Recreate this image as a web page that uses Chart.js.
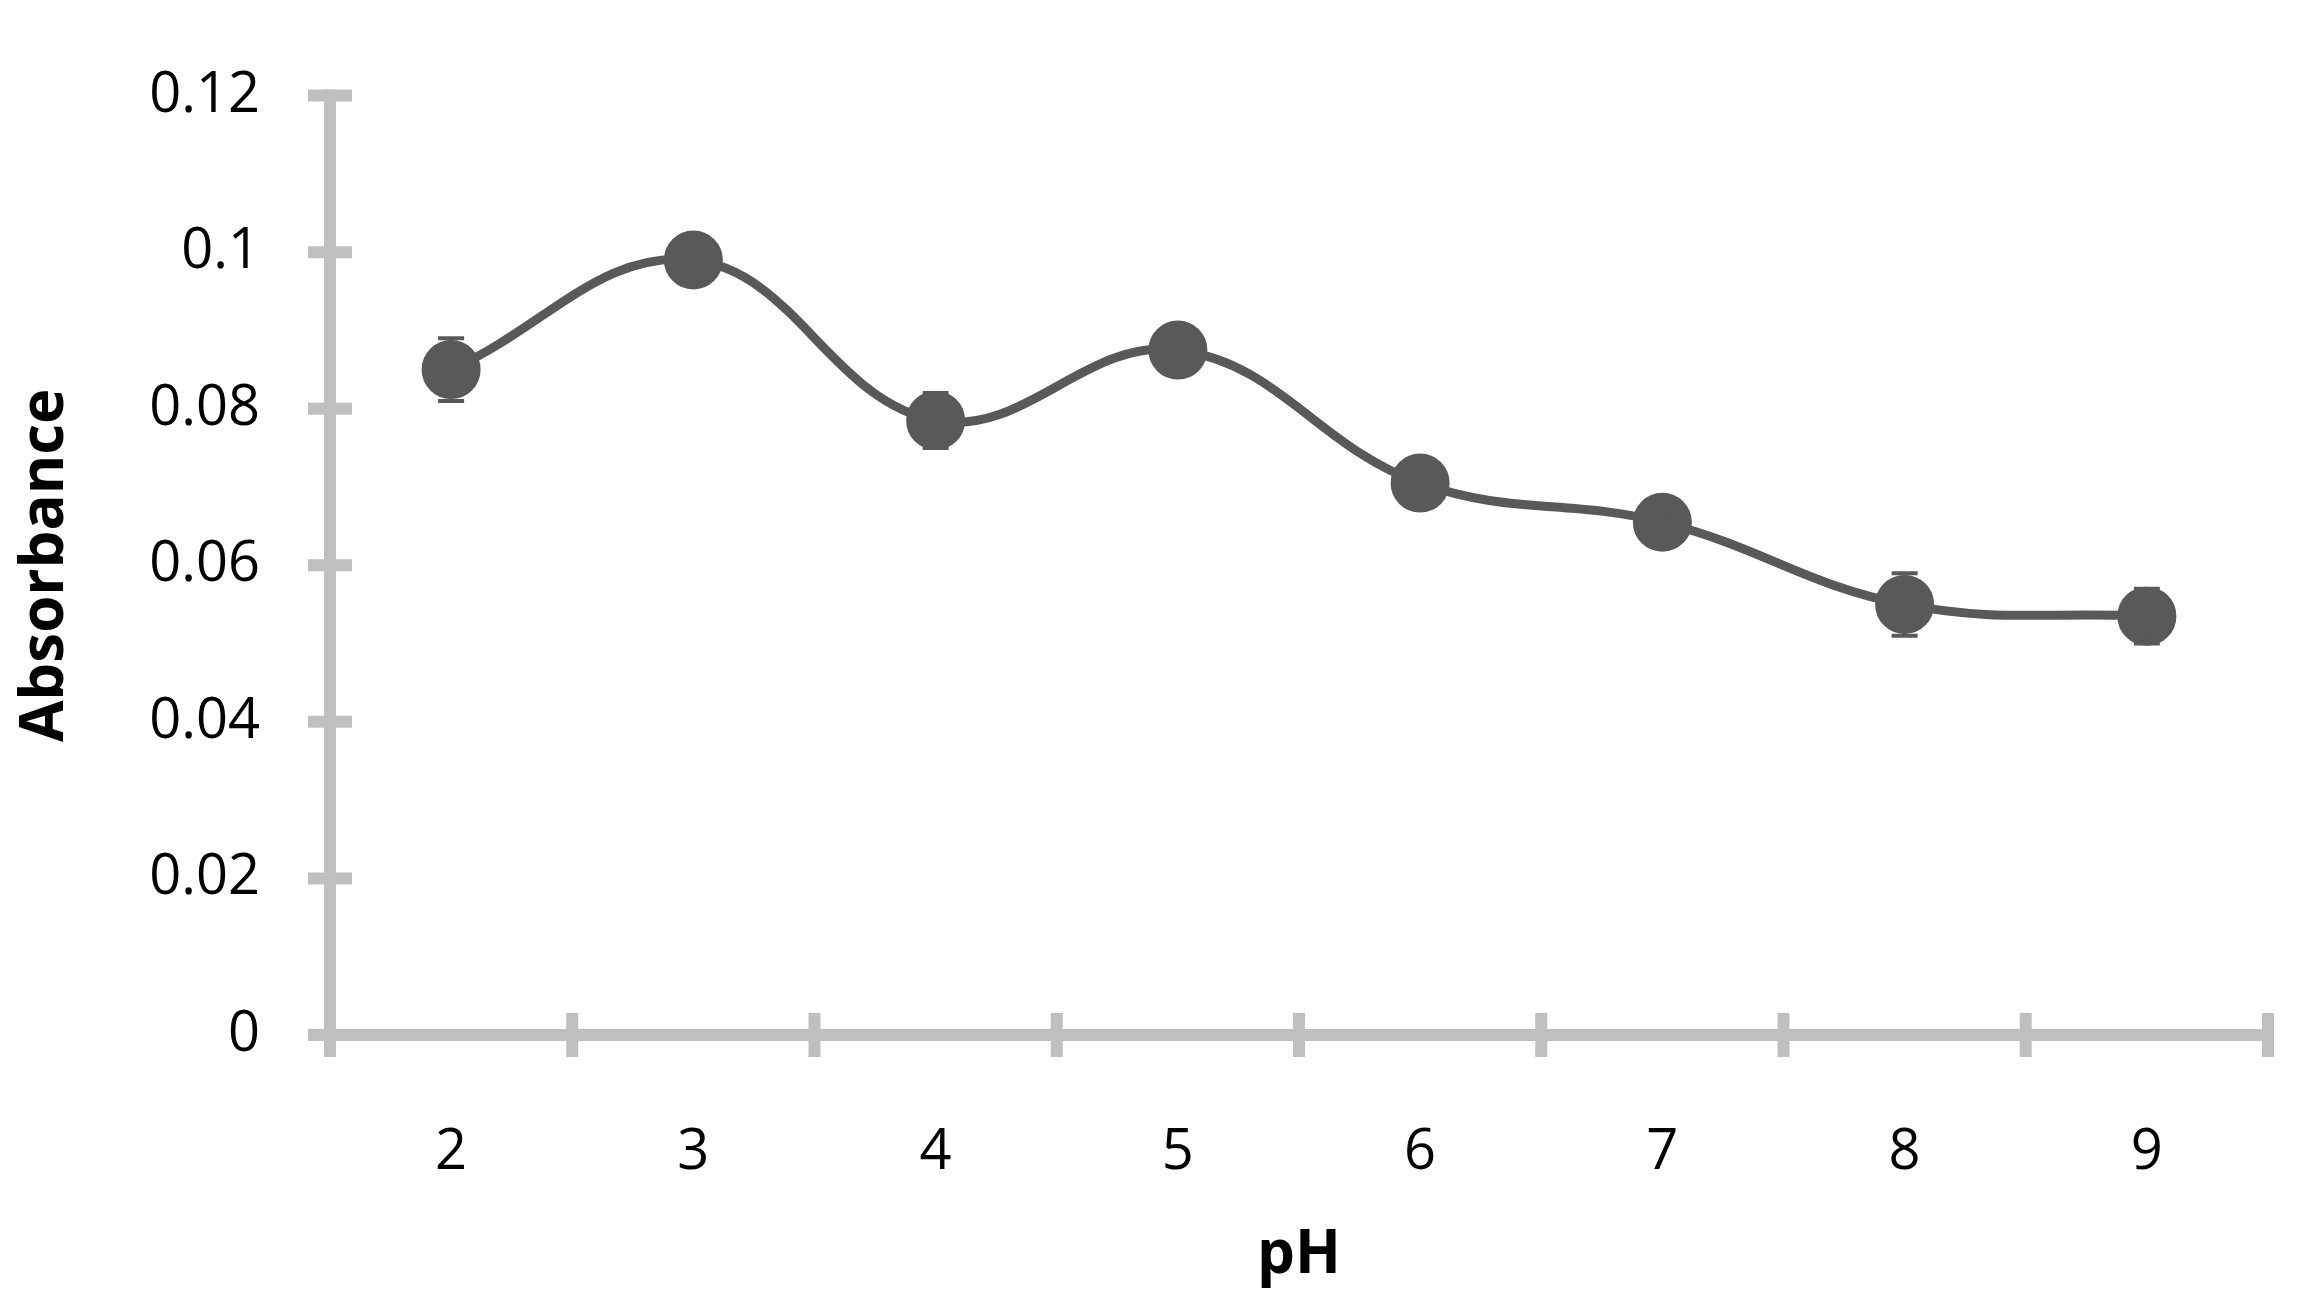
<!DOCTYPE html>
<html><head><meta charset="utf-8">
<script src="https://cdn.jsdelivr.net/npm/chart.js@4"></script>
<style>html,body{margin:0;background:#fff}#w{width:2302px;height:1302px}</style>
</head><body><div id="w"><canvas id="c"></canvas></div>
<script>
const categories=['2','3','4','5','6','7','8','9'];
const absorbance=[0.085,0.099,0.0785,0.0875,0.0705,0.0655,0.055,0.0535];
const errors=[0.004,0.0025,0.0035,0.001,0.001,0.001,0.004,0.0035];
const yTicks=[0,0.02,0.04,0.06,0.08,0.1,0.12];
const gray='#595959', axisC='#bfbfbf';
const plug={id:'p',
 beforeDatasetsDraw(ch){const c=ch.ctx,y=ch.scales.y,a=ch.chartArea;
  c.save();c.strokeStyle=axisC;c.lineWidth=12;c.lineCap='butt';
  c.beginPath();c.moveTo(a.left,a.top-6);c.lineTo(a.left,a.bottom);c.moveTo(a.left-6,a.bottom);c.lineTo(a.right,a.bottom);c.stroke();
  yTicks.forEach(v=>{const p=y.getPixelForValue(v);c.beginPath();c.moveTo(a.left-22,p);c.lineTo(a.left+22,p);c.stroke();});
  const n=categories.length,step=(a.right-a.left)/n;
  for(let i=0;i<=n;i++){const p=a.left+i*step;c.beginPath();c.moveTo(p,a.bottom-22);c.lineTo(p,a.bottom+22);c.stroke();}
  c.restore();},
 afterDatasetsDraw(ch){const c=ch.ctx,x=ch.scales.x,y=ch.scales.y;c.save();c.strokeStyle=gray;c.lineWidth=4;
  absorbance.forEach((v,i)=>{const px=x.getPixelForValue(i),t=y.getPixelForValue(v+errors[i]),b=y.getPixelForValue(v-errors[i]);
   c.beginPath();c.moveTo(px,t);c.lineTo(px,b);c.moveTo(px-13,t);c.lineTo(px+13,t);c.moveTo(px-13,b);c.lineTo(px+13,b);c.stroke();});
  c.restore();}};
new Chart(document.getElementById('c'),{type:'line',plugins:[plug],
 data:{labels:categories,datasets:[{data:absorbance,borderColor:gray,backgroundColor:gray,borderWidth:9,tension:0.4,pointRadius:25,pointHoverRadius:25}]},
 options:{responsive:true,maintainAspectRatio:false,animation:false,
  layout:{padding:{top:24,right:8,left:10,bottom:0}},
  plugins:{legend:{display:false},tooltip:{enabled:false}},
  scales:{
   x:{type:'category',offset:true,grid:{display:false},border:{display:false},
      ticks:{padding:76,color:'#000',font:{family:'Open Sans',size:56}},
      title:{display:true,text:'pH',color:'#000',font:{family:'Open Sans',size:60,weight:'bold'},padding:{top:20,bottom:10}},
      afterFit(s){s.height=267;}},
   y:{min:0,max:0.12,grid:{display:false},border:{display:false},
      afterBuildTicks(s){s.ticks=yTicks.map(v=>({value:v}));},
      ticks:{padding:62,color:'#000',font:{family:'Open Sans',size:56},callback:v=>String(+v.toFixed(2))},
      title:{display:true,text:'Absorbance',color:'#000',font:{family:'Open Sans',size:60,weight:'bold'},padding:{top:0,bottom:10}},
      afterFit(s){s.width=320;}}}}});
</script></body></html>
